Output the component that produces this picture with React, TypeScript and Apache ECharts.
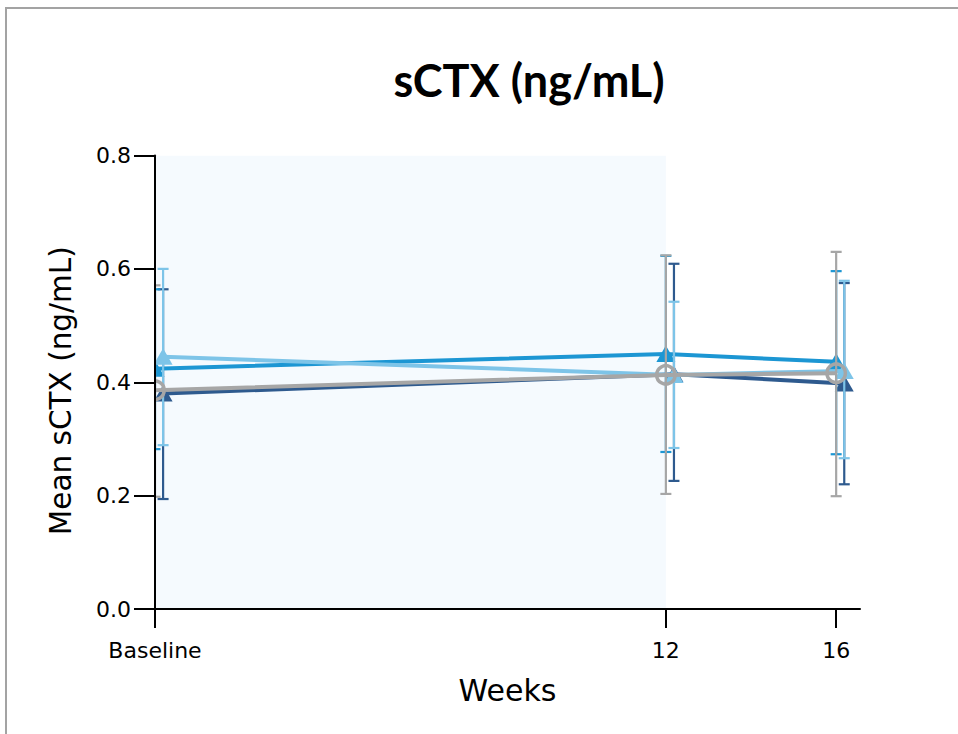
import React, { useEffect, useRef } from "react";
import * as echarts from "echarts";

// ---------- data ----------
const weeks = [0, 12, 16];
const weekLabels = ["Baseline", "12", "16"];
const yTicks = [0, 0.2, 0.4, 0.6, 0.8];
const shadedWeeks = [0, 12];

const seriesNames = ["Group 1", "Group 2", "Group 3", "Group 4"];

const navyMean = [0.38, 0.414, 0.398];
const navyLow = [0.194, 0.226, 0.22];
const navyHigh = [0.564, 0.609, 0.575];

const blueMean = [0.424, 0.45, 0.436];
const blueLow = [0.282, 0.277, 0.273];
const blueHigh = [0.564, 0.623, 0.596];

const lightMean = [0.445, 0.413, 0.42];
const lightLow = [0.289, 0.284, 0.266];
const lightHigh = [0.6, 0.542, 0.579];

const grayMean = [0.386, 0.413, 0.416];
const grayLow = [0.198, 0.203, 0.199];
const grayHigh = [0.571, 0.624, 0.63];

// ---------- styles ----------
const COLORS = ["#2E5A8E", "#1C96D3", "#7DC4E8", "#A6A6A6"];
const DODGE = [0.19, 0, 0.19, 0]; // horizontal dodge in weeks
const CAP = 5.5;
const AXIS_FONT = "'DejaVu Sans', sans-serif";

const groups = [
  { mean: navyMean, low: navyLow, high: navyHigh, symbol: "triangle" },
  { mean: blueMean, low: blueLow, high: blueHigh, symbol: "triangle" },
  { mean: lightMean, low: lightLow, high: lightHigh, symbol: "triangle" },
  { mean: grayMean, low: grayLow, high: grayHigh, symbol: "circle" },
];

export default function App() {
  const ref = useRef<HTMLDivElement>(null);

  useEffect(() => {
    if (!ref.current) return;
    const chart = echarts.init(ref.current, undefined, { renderer: "svg" });

    const series: any[] = [];

    series.push({
      type: "custom",
      name: "shade",
      silent: true,
      clip: true,
      z: 0,
      data: [[shadedWeeks[0], shadedWeeks[1]]],
      encode: { x: [0, 1] },
      renderItem: (params: any, api: any) => {
        const p0 = api.coord([api.value(0), yTicks[yTicks.length - 1]]);
        const p1 = api.coord([api.value(1), yTicks[0]]);
        return {
          type: "rect",
          shape: { x: p0[0], y: p0[1], width: p1[0] - p0[0], height: p1[1] - p0[1] },
          style: { fill: "#F5FAFE" },
        };
      },
    });

    groups.forEach((g, si) => {
      const color = COLORS[si];
      const isCircle = g.symbol === "circle";
      series.push({
        type: "line",
        name: seriesNames[si],
        silent: true,
        clip: true,
        z: 2 + si * 2,
        data: weeks.map((w, i) => [w + DODGE[si], g.mean[i]]),
        symbol: "none",
        lineStyle: { color, width: 4 },
        itemStyle: { color },
        emphasis: { disabled: true },
      });
      const errData = weeks.map((w, i) => [w + DODGE[si], g.low[i], g.high[i], g.mean[i]]);
      series.push({
        type: "custom",
        name: seriesNames[si] + " SD",
        silent: true,
        clip: true,
        z: 3 + si * 2,
        data: errData,
        encode: { x: 0, y: [1, 2, 3] },
        renderItem: (params: any, api: any) => {
          const x = api.value(0);
          const pLo = api.coord([x, api.value(1)]);
          const pHi = api.coord([x, api.value(2)]);
          const pM = api.coord([x, api.value(3)]);
          const px = pLo[0];
          const style = { stroke: color, lineWidth: 2.2 };
          const marker = isCircle
            ? {
                type: "circle",
                shape: { cx: pM[0], cy: pM[1], r: 9.2 },
                style: { fill: "none", stroke: color, lineWidth: 3.5 },
              }
            : {
                type: "polygon",
                shape: {
                  points: [
                    [pM[0], pM[1] - 8.5],
                    [pM[0] + 9.5, pM[1] + 8],
                    [pM[0] - 9.5, pM[1] + 8],
                  ],
                },
                style: { fill: color },
              };
          return {
            type: "group",
            children: [
              { type: "line", shape: { x1: px, y1: pHi[1], x2: px, y2: pLo[1] }, style },
              { type: "line", shape: { x1: px - CAP, y1: pHi[1], x2: px + CAP, y2: pHi[1] }, style },
              { type: "line", shape: { x1: px - CAP, y1: pLo[1], x2: px + CAP, y2: pLo[1] }, style },
              marker,
            ],
          };
        },
      });
    });

    chart.setOption({
      animation: false,
      backgroundColor: "#ffffff",
      grid: { left: 155, top: 155.5, width: 705, height: 453.5, containLabel: false },
      graphic: [
        {
          type: "rect",
          silent: true,
          shape: { x: 6, y: 8, width: 1200, height: 1000 },
          style: { fill: "none", stroke: "#A3A3A3", lineWidth: 2 },
        },
        {
          type: "text",
          x: 529,
          y: 80,
          style: {
            text: "sCTX (ng/mL)",
            font: "bold 45px Lato, 'Noto Sans', sans-serif",
            fill: "#000",
            textAlign: "center",
            textVerticalAlign: "middle",
          },
        },
      ],
      xAxis: {
        type: "value",
        min: 0,
        max: 16.56,
        z: 10,
        splitLine: { show: false },
        axisLine: { show: true, lineStyle: { color: "#000", width: 2 } },
        axisTick: { show: true, length: 19, lineStyle: { color: "#000", width: 2 }, customValues: weeks },
        axisLabel: {
          customValues: weeks,
          margin: 30,
          color: "#000",
          fontSize: 22,
          fontFamily: AXIS_FONT,
          formatter: (v: number) => {
            const i = weeks.indexOf(v);
            return i >= 0 ? weekLabels[i] : "";
          },
        },
        name: "Weeks",
        nameLocation: "middle",
        nameGap: 66,
        nameTextStyle: { fontSize: 30, color: "#000", fontFamily: AXIS_FONT },
      },
      yAxis: {
        type: "value",
        min: 0,
        max: 0.8,
        interval: 0.2,
        z: 10,
        splitLine: { show: false },
        axisLine: { show: true, lineStyle: { color: "#000", width: 2 } },
        axisTick: { show: true, length: 21, lineStyle: { color: "#000", width: 2 } },
        axisLabel: {
          margin: 24,
          color: "#000",
          fontSize: 22,
          fontFamily: AXIS_FONT,
          formatter: (v: number) => v.toFixed(1),
        },
        name: "Mean sCTX (ng/mL)",
        nameLocation: "middle",
        nameGap: 79,
        nameTextStyle: { fontSize: 29.5, color: "#000", fontFamily: AXIS_FONT, padding: [0, 17, 0, 0] },
      },
      series,
    });

    return () => chart.dispose();
  }, []);

  return (
    <div
      ref={ref}
      style={{ position: "fixed", left: 0, top: 0, width: 958, height: 734 }}
    />
  );
}
